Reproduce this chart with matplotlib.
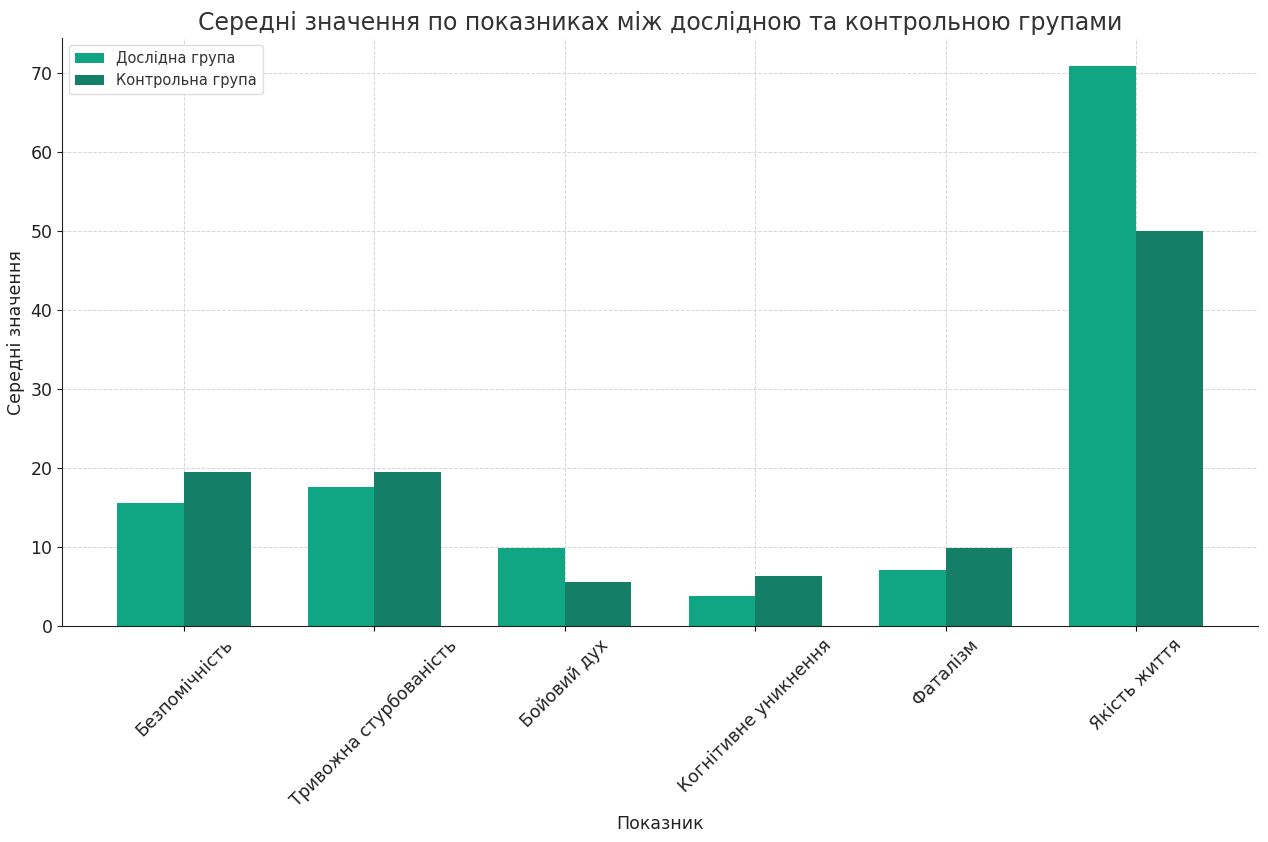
import matplotlib
matplotlib.use("Agg")
import matplotlib.pyplot as plt
import numpy as np

categories = ["Безпомічність", "Тривожна стурбованість", "Бойовий дух",
              "Когнітивне уникнення", "Фаталізм", "Якість життя"]
experimental = [15.6, 17.7, 9.9, 3.8, 7.2, 71.0]
control = [19.6, 19.5, 5.6, 6.4, 9.9, 50.0]
series_names = ["Дослідна група", "Контрольна група"]

fig = plt.figure(figsize=(12.68, 8.42), dpi=100)
ax = fig.add_axes([0.049, 0.256, 0.943, 0.699])

x = np.arange(len(categories))
w = 0.35
ax.bar(x - w/2, experimental, w, label=series_names[0], color="#11a683", zorder=2)
ax.bar(x + w/2, control, w, label=series_names[1], color="#147f66", zorder=2)

ax.set_title("Середні значення по показниках між дослідною та контрольною групами",
             fontsize=17, color="#333333")
ax.set_xlabel("Показник", fontsize=12.5, color="#222222", labelpad=4)
ax.set_ylabel("Середні значення", fontsize=12.5, color="#222222")
ax.set_xticks(x)
ax.set_xticklabels(categories, rotation=45, ha="center", fontsize=12.5, color="#222222")
ax.tick_params(axis="y", labelsize=12.5, colors="#222222")
ax.set_ylim(0, 74.5)
ax.set_yticks(range(0, 71, 10))
ax.set_xlim(-0.64, 5.64)
ax.grid(True, linestyle="--", color="#d5d5d5", linewidth=0.7, zorder=0)
ax.set_axisbelow(True)
for s in ["top", "right"]:
    ax.spines[s].set_visible(False)
ax.spines["left"].set_color("#222222")
ax.spines["bottom"].set_color("#222222")
ax.legend(loc="upper left", fontsize=10.5, framealpha=1.0, edgecolor="#dddddd",
          labelcolor="#333333")

fig.savefig("out.png", dpi=100)
